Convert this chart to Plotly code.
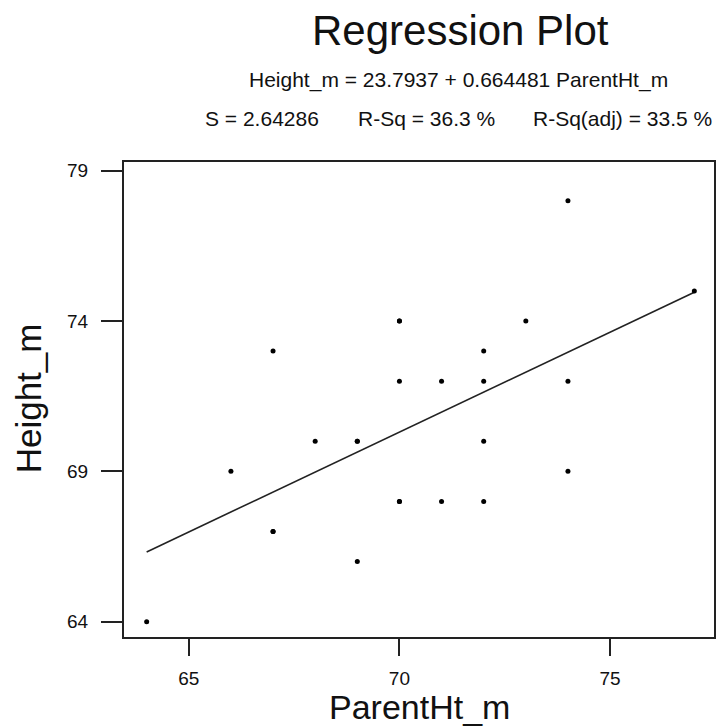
import plotly.graph_objects as go

# Data
parent_ht = [64, 66, 67, 67, 67, 68, 69, 69, 69, 70, 70, 70, 70, 70,
             71, 71, 72, 72, 72, 72, 73, 74, 74, 74, 77]
height_m = [64, 69, 73, 67, 67, 70, 70, 70, 66, 74, 74, 72, 68, 68,
            72, 68, 73, 72, 70, 68, 74, 78, 72, 69, 75]
intercept = 23.7937
slope = 0.664481
x_ticks = [65, 70, 75]
y_ticks = [64, 69, 74, 79]
title_text = "Regression Plot"
equation_text = "Height_m = 23.7937 + 0.664481 ParentHt_m"
stats_texts = ["S = 2.64286", "R-Sq = 36.3 %", "R-Sq(adj) = 33.5 %"]

W, H = 717, 726
ML, MR, MT, MB = 124, 1, 162, 89
PW, PH = W - ML - MR, H - MT - MB

def px(xp):
    return (xp - ML) / PW

def py(yp):
    return (H - MB - yp) / PH

x_line = [min(parent_ht), max(parent_ht)]
y_line = [intercept + slope * v for v in x_line]

FONT = "Liberation Sans, Arial, Helvetica, sans-serif"

fig = go.Figure()
fig.add_trace(go.Scatter(x=x_line, y=y_line, mode="lines",
                         line=dict(color="#222222", width=1.6),
                         hoverinfo="skip", showlegend=False))
fig.add_trace(go.Scatter(x=parent_ht, y=height_m, mode="markers",
                         marker=dict(color="black", size=5),
                         showlegend=False, cliponaxis=False))

annotations = [
    dict(text=title_text, x=px(462), y=py(31), xanchor="center", yanchor="middle",
         font=dict(size=42, color="#111111", family=FONT)),
    dict(text=equation_text, x=px(459.5), y=py(80), xanchor="center", yanchor="middle",
         font=dict(size=21, color="#111111", family=FONT)),
]
for txt, xl in zip(stats_texts, [203, 357, 532]):
    annotations.append(dict(text=txt, x=px(xl), y=py(119), xanchor="left", yanchor="middle",
                            font=dict(size=21, color="#111111", family=FONT)))
annotations.append(dict(text="ParentHt_m", x=px(420.5), y=py(707), xanchor="center",
                        yanchor="middle", font=dict(size=34, color="#111111", family=FONT)))
annotations.append(dict(text="Height_m", x=px(28), y=py(398), xanchor="center",
                        yanchor="middle", textangle=-90,
                        font=dict(size=35, color="#111111", family=FONT)))
for a in annotations:
    a.update(xref="paper", yref="paper", showarrow=False)

fig.update_layout(
    width=W, height=H,
    margin=dict(l=ML, r=MR, t=MT, b=MB),
    paper_bgcolor="white", plot_bgcolor="white",
    font=dict(family=FONT, color="#111111"),
    annotations=annotations,
    xaxis=dict(range=[63.462, 77.467], tickvals=x_ticks, ticks="outside",
               ticklen=17, tickwidth=2, tickcolor="#222222",
               showgrid=False, zeroline=False, showline=True, linecolor="#222222",
               linewidth=2, mirror=True, ticklabelstandoff=6,
               tickfont=dict(size=19, color="#111111")),
    yaxis=dict(range=[63.49, 79.29], tickvals=y_ticks, ticks="outside",
               ticklen=21, tickwidth=2, tickcolor="#222222",
               showgrid=False, zeroline=False, showline=True, linecolor="#222222",
               linewidth=2, mirror=True, ticklabelstandoff=9,
               tickfont=dict(size=19, color="#111111")),
)

fig.write_html("out.html", config={"displayModeBar": False},
               post_script="document.body.style.margin='0';document.body.style.overflow='hidden';")
